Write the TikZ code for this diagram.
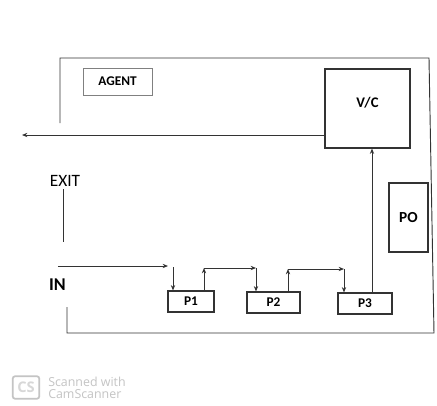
\documentclass[tikz,border=0pt]{standalone}
\usepackage{fontspec}
\setmainfont{Carlito}
\newfontfamily\wmfont{Open Sans}
\usetikzlibrary{arrows.meta}
\definecolor{linec}{HTML}{333333}
\definecolor{agentc}{HTML}{808080}
\definecolor{wmc}{HTML}{C4C4C4}
\tikzset{
  box/.style={draw=linec, line width=0.8pt, inner sep=0pt, text=black},
  conn/.style={draw=linec, line width=0.7pt},
  arr/.style={conn, -{Stealth[length=4pt,width=3.2pt]}},
  lbl/.style={font=\bfseries\fontsize{10}{12}\selectfont}
}
\begin{document}
\begin{tikzpicture}[x=0.75pt,y=-0.75pt]
\useasboundingbox (0,0) rectangle (437,405);
\fill[white] (0,0) rectangle (437,405);

% boxes
\node[box, draw=agentc, line width=0.6pt, minimum width=51.75pt, minimum height=20.25pt, lbl] (agent) at (117.5,81.5) {AGENT};
\node[box, minimum width=63.75pt, minimum height=59.25pt,
      label={[yshift=4.5pt, font=\bfseries\fontsize{11}{13}\selectfont]center:V/C}] (vc) at (367.5,108.5) {};
\node[box, minimum width=29.25pt, minimum height=51.75pt, font=\bfseries\fontsize{11.5}{13}\selectfont] (po) at (408.5,217.5) {PO};
\node[box, minimum width=34.5pt, minimum height=15.75pt, lbl] (p1) at (191,301.5) {P1};
\node[box, minimum width=39.75pt, minimum height=15.75pt, lbl] (p2) at (273.5,302.5) {P2};
\node[box, minimum width=40.5pt, minimum height=15.75pt, lbl] (p3) at (365,303.5) {P3};

% labels
\node[font=\fontsize{13}{15}\selectfont, inner sep=0pt] (exit) at (65,181) {EXIT};
\node[font=\bfseries\fontsize{13.5}{15}\selectfont, inner sep=0pt] (in) at (57.5,284.5) {IN};

% frame
\coordinate (f1) at (60,123);
\coordinate (f2) at (60,58);
\coordinate (f3) at (429,58);
\coordinate (f4) at (434,333);
\coordinate (f5) at (67,333);
\coordinate (f6) at (67,307);
\draw[conn] (f1) -- (f2) -- (f3) -- (f4) -- (f5) -- (f6);

% exit arrow
\coordinate (exitend) at (22,135);
\draw[arr] (vc.west |- 0,135) -- (exitend);
\coordinate (exittop) at (63,189);
\coordinate (exitbot) at (63,242);
\draw[conn] (exittop) -- (exitbot);

% IN arrow
\coordinate (ins) at (58,266);
\coordinate (ine) at (168,266);
\draw[arr] (ins) -- (ine);
\coordinate (p1in) at (173,267);
\draw[arr] (p1in) -- (p1in |- p1.north);

% P1 -> P2
\coordinate (a1) at (204,268);
\coordinate (a2) at (256,268);
\draw[arr] (a1 |- p1.north) -- (a1);
\draw[arr] (a1) -- (a2);
\draw[arr] (a2) -- (a2 |- p2.north);

% P2 -> P3
\coordinate (b1) at (288,269);
\coordinate (b2) at (344,269);
\draw[arr] (b1 |- p2.north) -- (b1);
\draw[arr] (b1) -- (b2);
\draw[arr] (b2) -- (b2 |- p3.north);

% P3 -> V/C
\coordinate (c1) at (372,200);
\draw[arr] (c1 |- p3.north) -- (c1 |- vc.south);

% watermark
\node[draw=wmc, fill=white, line width=1.3pt, rounded corners=2pt, minimum width=20pt, minimum height=17pt, inner sep=0pt,
      font=\wmfont\bfseries\fontsize{11}{12}\selectfont, text=wmc!110!black] (cs) at (26,387.5) {CS};
\node[anchor=west, align=left, inner sep=0pt, text=wmc, font=\wmfont\fontsize{9.3}{9.5}\selectfont] (wm) at (48,388) {Scanned with\\CamScanner};
\end{tikzpicture}
\end{document}
